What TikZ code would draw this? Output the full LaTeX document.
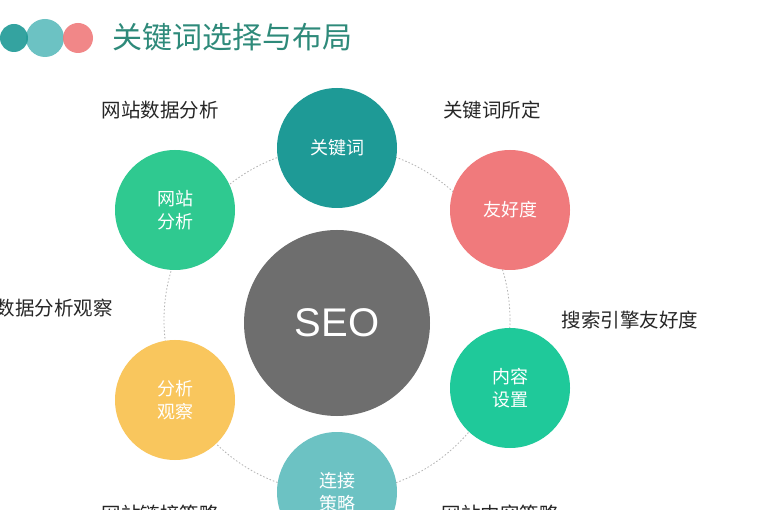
\documentclass[tikz,border=0pt]{standalone}
\usepackage{fontspec}
\setmainfont{Noto Sans CJK SC}
\newfontfamily\lat{Liberation Sans}
\begin{document}
\begin{tikzpicture}[x=1pt,y=-1pt,
  bub/.style={circle,minimum size=120pt,inner sep=0pt,text=white,font=\fontsize{18}{23}\selectfont,align=center},
  lab/.style={font=\fontsize{19.5}{22}\selectfont,text=black!85}]
\useasboundingbox (0,0) rectangle (768,510);
\clip (0,0) rectangle (768,510);
\fill[white] (0,0) rectangle (768,510);
\definecolor{cA}{HTML}{1E9A96}\definecolor{cB}{HTML}{F07A7C}
\definecolor{cC}{HTML}{1FC99A}\definecolor{cD}{HTML}{6CC2C3}
\definecolor{cE}{HTML}{F9C65D}\definecolor{cF}{HTML}{2FC990}
\definecolor{cG}{HTML}{6E6E6E}\definecolor{cT}{HTML}{2E8A7A}
\fill[cD] (45,38) circle (19);
\fill[cA,opacity=.9] (14,38) circle (14);
\fill[cB,opacity=.9] (78,38) circle (15);
\node[font=\fontsize{30}{34}\selectfont,text=cT,anchor=west,inner sep=0pt] (title) at (112,37) {关键词选择与布局};
\coordinate (ctr) at (337,320);
\draw[gray!60,dash pattern=on 1.5pt off 2pt,line width=.8pt] (ctr) circle (173);
\node[circle,fill=cG,minimum size=186pt,text=white,font=\lat\fontsize{40}{42}\selectfont] (seo) at (337,323) {SEO};
\node[bub,fill=cA] (k) at (337,148) {关键词};
\node[bub,fill=cB] (f) at (510,210) {友好度};
\node[bub,fill=cC] (n) at (510,388) {内容\\设置};
\node[bub,fill=cD] (l) at (337,492) {连接\\策略};
\node[bub,fill=cE] (a) at (175,400) {分析\\观察};
\node[bub,fill=cF] (w) at (175,210) {网站\\分析};
\node[lab] (t1) at (160,110) {网站数据分析};
\node[lab] (t2) at (492,110) {关键词所定};
\node[lab] (t3) at (630,320) {搜索引擎友好度};
\node[lab] (t4) at (35,308) {网站数据分析观察};
\node[lab] (t5) at (160,514) {网站链接策略};
\node[lab] (t6) at (500,514) {网站内容策略};
\end{tikzpicture}
\end{document}
